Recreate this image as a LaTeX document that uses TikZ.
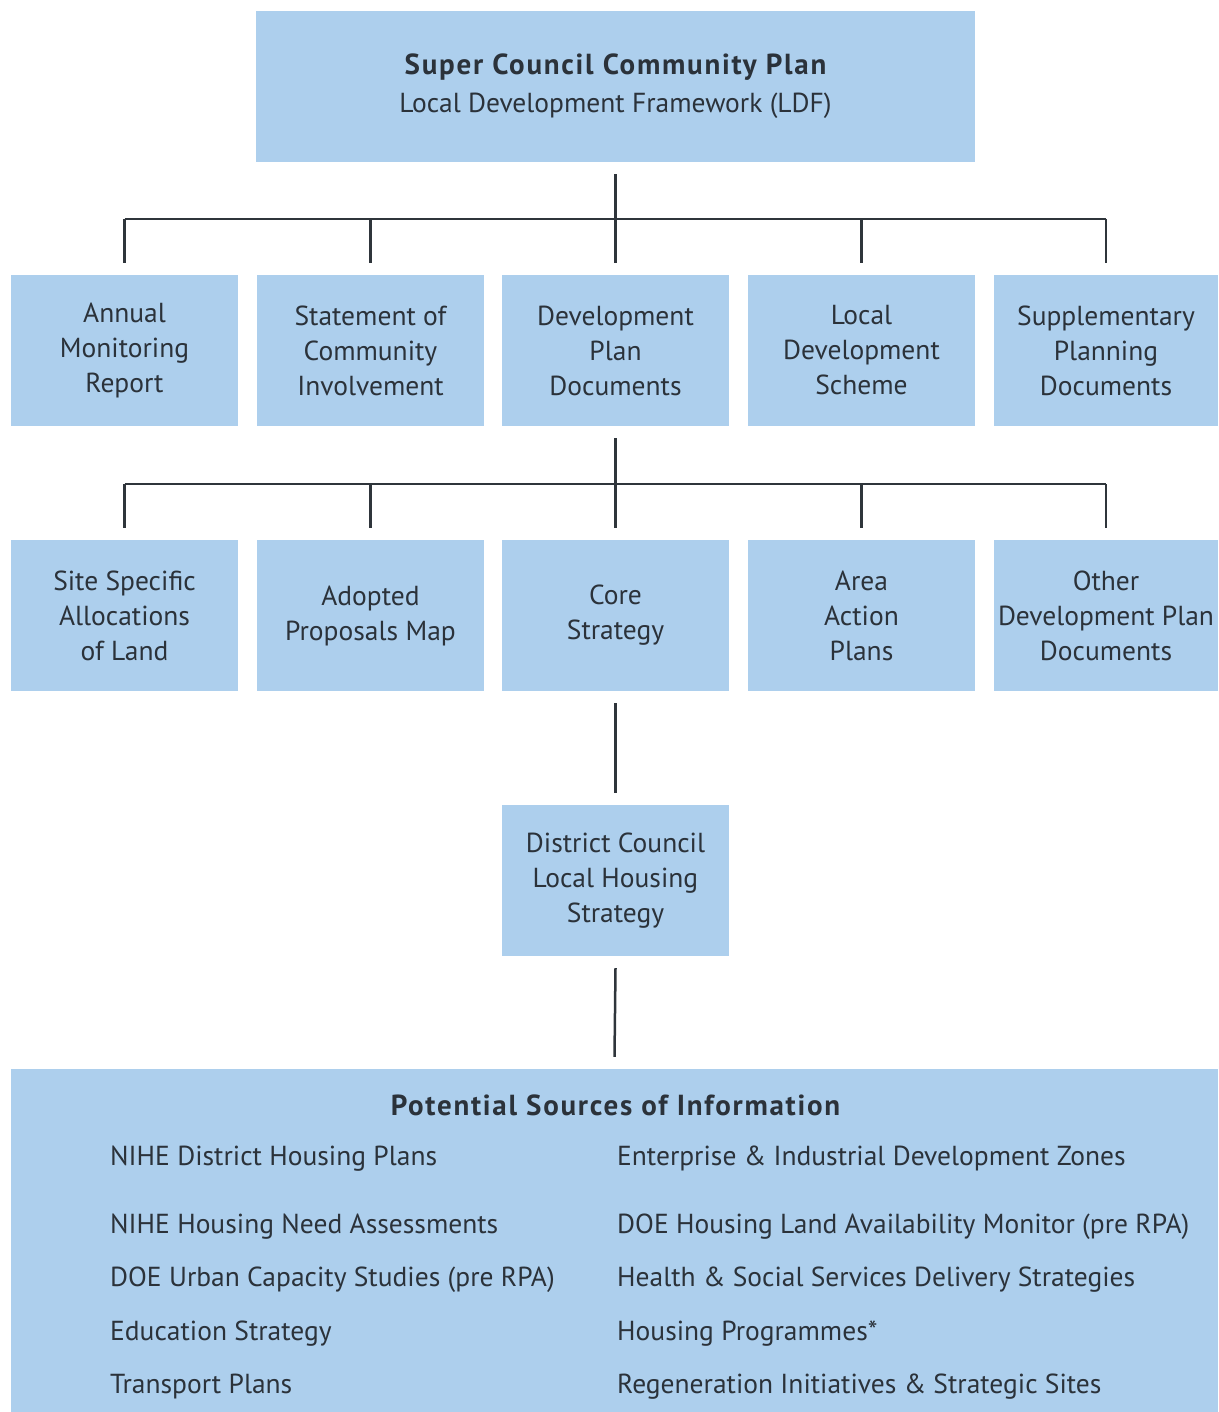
\documentclass[tikz,border=0pt]{standalone}
\usepackage{fontspec}
\setmainfont{PT Sans}
\usetikzlibrary{calc}
\definecolor{boxblue}{HTML}{ADCFED}
\definecolor{txt}{HTML}{2B323A}
\definecolor{ln}{HTML}{2F353B}
\newcommand{\headfont}{\fontsize{29}{35}\selectfont\bfseries\addfontfeatures{LetterSpace=6}}
\begin{document}
\begin{tikzpicture}[x=1pt,y=-1pt,
  bx/.style={fill=boxblue, draw=none, minimum width=227pt, minimum height=151pt, inner sep=0pt, align=center, text=txt, font=\fontsize{27.5}{35}\selectfont},
  conn/.style={draw=ln, line width=2.5pt},
  src/.style={anchor=base west, text=txt, font=\fontsize{27.5}{31}\selectfont, inner sep=0pt}]
\useasboundingbox (0,0) rectangle (1218,1412);
% top
\node[bx, minimum width=719pt] (top) at (615.5,86.5) {{\headfont Super Council Community Plan}\\[3pt]Local Development Framework (LDF)};
% row 1
\node[bx] (a1) at (124.5,350.5) {Annual\\Monitoring\\Report};
\node[bx] (a2) at (370.5,350.5) {Statement of\\Community\\Involvement};
\node[bx] (a3) at (615.5,350.5) {Development\\Plan\\Documents};
\node[bx] (a4) at (861.5,350.5) {Local\\Development\\Scheme};
\node[bx, minimum width=224pt] (a5) at (1106,350.5) {Supplementary\\Planning\\Documents};
% row 2
\node[bx] (b1) at (124.5,615.5) {Site Specific\\Allocations\\of Land};
\node[bx] (b2) at (370.5,615.5) {Adopted\\Proposals Map};
\node[bx] (b3) at (615.5,615.5) {Core\\Strategy};
\node[bx] (b4) at (861.5,615.5) {Area\\Action\\Plans};
\node[bx, minimum width=224pt] (b5) at (1106,615.5) {Other\\Development Plan\\Documents};
% district
\node[bx] (d) at (615.5,880.5) {District Council\\Local Housing\\Strategy};
% sources
\node[fill=boxblue, minimum width=1207pt, minimum height=343pt, inner sep=0pt] (s) at (614.5,1240.5) {};
\node[text=txt, font=\headfont, anchor=base, inner sep=0pt] (st) at (615.5,1115) {Potential Sources of Information};
\node[src] (l1) at (110,1165) {NIHE District Housing Plans};
\node[src] (l2) at (110,1233) {NIHE Housing Need Assessments};
\node[src] (l3) at (110,1286) {DOE Urban Capacity Studies (pre RPA)};
\node[src] (l4) at (110,1340) {Education Strategy};
\node[src] (l5) at (110,1393) {Transport Plans};
\node[src] (r1) at (617,1165) {Enterprise \& Industrial Development Zones};
\node[src] (r2) at (617,1233) {DOE Housing Land Availability Monitor (pre RPA)};
\node[src] (r3) at (617,1286) {Health \& Social Services Delivery Strategies};
\node[src] (r4) at (617,1340) {Housing Programmes*};
\node[src] (r5) at (617,1393) {Regeneration Initiatives \& Strategic Sites};
% connector coordinates
\coordinate (t0) at ($(top.south)+(0,12)$);
\coordinate (t1) at (615.5,219);
\foreach \n in {a1,a2,a3,a4,a5}{\coordinate (\n t) at ($(\n.north)+(0,-12)$); \coordinate (\n h) at (\n.north |- t1);}
\coordinate (p0) at ($(a3.south)+(0,12)$);
\coordinate (p1) at (615.5,484);
\foreach \n in {b1,b2,b3,b4,b5}{\coordinate (\n t) at ($(\n.north)+(0,-12)$); \coordinate (\n h) at (\n.north |- p1);}
\coordinate (c0) at ($(b3.south)+(0,12)$);
\coordinate (c1) at ($(d.north)+(0,-12)$);
\coordinate (e0) at ($(d.south)+(0,12)$);
\coordinate (e1) at ($(s.north)+(0,-12)$);
% connectors
\draw[conn] (t0) -- (t1);
\draw[conn] (a1h) -- (a5h);
\foreach \n in {a1,a2,a3,a4,a5}{\draw[conn] (\n h) -- (\n t);}
\draw[conn] (p0) -- (p1);
\draw[conn] (b1h) -- (b5h);
\foreach \n in {b1,b2,b3,b4,b5}{\draw[conn] (\n h) -- (\n t);}
\draw[conn] (c0) -- (c1);
\draw[conn] (e0) -- (e1);
\end{tikzpicture}
\end{document}
